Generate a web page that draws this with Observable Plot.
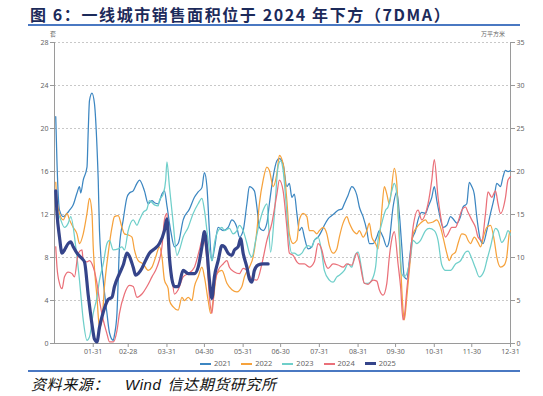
<!DOCTYPE html>
<html><head><meta charset="utf-8">
<script src="https://cdn.jsdelivr.net/npm/d3@7"></script>
<script src="https://cdn.jsdelivr.net/npm/@observablehq/plot@0.6"></script>
<style>
html,body{margin:0;padding:0;background:#fff;}
#wrap{position:relative;width:543px;height:396px;overflow:hidden;}
#title{position:absolute;left:30px;top:2px;font-family:"Noto Sans CJK SC","Noto Sans",sans-serif;font-weight:700;font-size:16px;color:#1c2a5a;white-space:nowrap;letter-spacing:1.6px;}
#tline{position:absolute;left:28px;top:24px;width:492px;height:2px;background:#4a78c2;}
#chart{position:absolute;left:0;top:27px;}
.unit{position:absolute;font-family:"Noto Sans CJK SC",sans-serif;font-size:6px;color:#666;white-space:nowrap;}
#legend{position:absolute;left:200px;top:358px;display:flex;gap:10px;font-family:"Noto Sans",sans-serif;font-size:7.5px;color:#666;align-items:center;}
#legend span.sw{display:inline-block;width:11px;height:2px;margin-right:3px;vertical-align:middle;}
#bline{position:absolute;left:28px;top:370px;width:492px;height:2px;background:#4a78c2;}
#caption{position:absolute;left:31px;top:373px;font-family:"Noto Sans CJK SC",sans-serif;font-style:italic;font-size:15px;color:#111;white-space:nowrap;letter-spacing:0.6px;}
#caption .w{font-family:"Liberation Sans",sans-serif;font-style:italic;margin:0 6px 0 16px;}
</style></head>
<body><div id="wrap">
<div id="title">图 6：一线城市销售面积位于 2024 年下方（7DMA）</div>
<div id="tline"></div>
<div class="unit" style="left:50px;top:29px;">套</div>
<div class="unit" style="left:481px;top:29px;">万平方米</div>
<div id="chart"></div>
<div id="legend"></div>
<div id="bline"></div>
<div id="caption">资料来源：<span class="w">Wind</span>信达期货研究所</div>
</div>
<script>
const xTickDays = [31,59,90,120,151,181,212,243,273,304,334,365];
const xTickLabels = ["01-31","02-28","03-31","04-30","05-31","06-30","07-31","08-31","09-30","10-31","11-30","12-31"];
const leftTicks = [0,4,8,12,16,20,24,28];
const rightTicks = [0,5,10,15,20,25,30,35];
const years = ["2021","2022","2023","2024","2025"];
const colors = ["#3c86c1","#f6a23c","#6fcfca","#ea7079","#35448a"];

const days2021 = [1,2,4,7,10,12,15,18,20,21,23,26,27,28,30,32,34,35,36,39,42,44,47,48,50,51,52,55,58,60,63,66,68,72,75,78,80,83,86,88,90,93,96,99,103,108,112,115,118,120,122,124,126,128,131,135,139,142,146,148,151,154,156,160,162,164,167,170,172,175,178,180,183,186,188,190,192,194,196,198,200,203,206,208,211,214,216,219,222,224,227,230,232,235,238,240,242,244,247,250,252,255,258,260,263,266,268,271,274,276,278,280,282,284,286,289,291,294,297,299,302,304,306,308,311,314,317,319,322,325,327,330,332,334,336,338,341,343,346,349,352,354,357,359,361,363,365];
const vals2021 = [21.1,16.8,12.4,11.8,12.1,12.4,12.9,14.0,14.6,14.0,15.2,16.4,19.8,22.6,23.3,22.3,18.3,15.2,10.5,5.9,2.8,1.0,0.3,0.8,2.8,5.9,9.0,11.5,13.6,14.0,14.2,14.9,15.2,14.2,13.0,13.3,13.1,13.0,13.9,14.2,12.8,10.5,9.0,9.3,11.5,12.5,13.6,14.1,14.5,15.9,14.6,10.5,7.7,8.8,10.8,10.5,10.8,11.5,10.8,9.9,10.5,13.0,14.6,14.2,12.7,10.8,10.5,11.2,13.0,15.5,17.0,17.2,16.7,14.6,14.9,13.6,13.9,12.1,10.5,10.8,9.9,8.8,9.0,9.6,9.9,10.5,11.0,11.6,11.9,12.1,12.4,12.5,13.0,13.8,14.6,14.4,13.8,12.7,11.8,10.5,9.3,9.3,9.9,10.5,9.9,9.0,9.6,12.7,14.1,12.1,9.0,6.2,6.0,7.7,9.6,10.5,11.5,12.2,12.1,12.7,13.6,14.6,13.3,12.1,10.8,11.0,11.8,11.6,11.2,11.8,12.7,13.0,15.0,14.6,13.9,11.8,9.6,9.3,10.5,12.1,13.6,14.9,14.6,15.5,16.1,16.0,16.1];

const days2022 = [1,2,4,7,10,12,15,18,20,23,26,28,30,31,34,36,38,40,43,46,48,51,54,56,59,62,64,67,71,75,78,81,84,86,88,91,92,95,99,102,104,107,110,112,115,118,120,123,125,127,130,134,138,142,146,150,152,156,159,162,164,167,170,172,175,178,180,183,186,188,191,194,196,199,202,204,207,210,212,215,218,220,223,226,228,231,234,236,239,242,244,247,250,252,254,257,259,262,264,266,268,272,274,275,277,279,280,282,285,287,290,293,297,299,303,306,309,311,314,316,318,321,323,326,329,331,333,336,339,341,344,346,349,352,354,357,360,362,364,365];
const vals2022 = [15.0,13.3,12.1,11.5,12.1,11.5,10.8,10.2,9.3,10.2,12.1,13.5,12.1,9.0,4.3,1.5,2.2,5.3,8.4,10.8,11.8,11.9,10.8,10.2,10.1,9.9,8.7,7.7,7.4,6.8,7.1,8.05,9.0,8.05,5.9,5.1,4.0,3.4,3.1,4.3,4.0,4.3,4.0,5.3,6.2,7.1,6.2,4.0,2.8,4.0,6.5,6.8,5.6,5.0,4.8,5.3,6.2,7.1,8.05,10.5,13.0,15.2,16.4,16.1,14.6,15.8,17.5,16.7,13.3,10.2,9.3,9.6,11.5,12.1,11.8,10.5,10.5,10.2,10.5,10.8,10.2,9.1,8.4,8.8,9.9,11.2,11.8,11.2,10.5,10.2,10.5,9.9,10.5,11.2,9.9,9.3,8.8,12.4,14.6,13.9,13.0,16.3,14.9,12.1,7.4,3.1,2.2,4.3,8.05,10.2,10.8,11.2,11.5,11.2,11.3,11.5,10.8,9.9,8.4,7.7,8.2,8.5,9.3,10.2,10.1,9.6,9.3,9.9,9.4,9.0,10.2,10.8,11.0,9.6,8.05,7.1,7.3,8.05,10.2,10.5];

const days2023 = [1,4,8,11,13,17,20,23,26,28,31,34,36,39,42,44,47,51,54,56,59,63,66,68,71,74,76,80,83,84,87,89,90,92,95,98,100,103,107,111,115,118,120,123,126,128,131,134,136,140,143,146,148,151,154,156,158,161,164,167,170,173,176,179,181,183,185,187,190,192,195,198,200,203,206,208,211,214,216,220,223,226,228,232,235,238,240,243,246,248,251,254,257,259,262,265,267,270,272,274,276,278,280,282,285,287,290,293,297,300,304,307,310,313,317,321,325,329,331,334,337,340,344,346,349,353,355,358,361,363,365];
const vals2023 = [12.5,11.8,10.8,11.2,11.8,9.0,5.9,2.2,0.3,0.6,2.8,4.3,5.9,7.4,9.3,9.6,8.7,8.8,9.0,8.7,10.5,11.5,11.0,11.5,12.2,12.5,13.3,12.9,12.8,13.3,13.9,15.2,16.9,14.6,11.2,8.2,8.7,9.9,10.8,12.1,13.0,13.5,12.4,9.6,7.7,9.3,10.5,10.8,10.5,10.7,10.2,10.5,11.0,10.5,9.3,8.4,8.05,9.6,11.2,12.4,13.0,8.5,12.0,16.5,17.0,16.1,13.6,10.5,8.4,8.4,8.2,8.4,8.8,9.1,9.0,9.6,9.9,8.4,6.8,5.9,5.7,6.2,6.35,6.8,7.4,7.1,8.05,8.5,6.8,5.6,5.6,5.9,7.1,9.6,11.2,12.4,12.7,14.2,14.9,13.9,10.2,6.5,6.2,6.5,8.05,9.6,9.3,9.6,10.5,10.7,10.5,9.6,7.3,6.8,6.8,7.4,7.7,8.5,8.6,7.9,7.0,6.2,6.8,7.7,9.0,10.7,10.5,9.4,9.9,10.5,10.1];

const days2024 = [1,2,4,6,8,11,14,16,19,22,23,26,28,31,34,36,39,42,44,47,50,52,56,60,63,66,70,74,78,82,86,88,90,91,94,96,99,103,107,112,116,119,122,124,126,128,131,135,138,140,144,148,151,154,158,162,166,170,174,178,180,183,186,188,191,194,196,200,204,208,211,214,216,219,223,227,231,234,238,242,244,248,251,255,258,260,263,266,268,271,272,275,277,279,280,282,285,287,291,294,297,299,302,304,307,310,313,315,318,321,323,326,329,331,334,337,339,342,345,347,350,353,355,357,361,363,365];
const vals2024 = [9.0,7.1,5.6,5.1,6.2,6.65,6.5,6.2,8.4,8.7,7.7,7.6,7.7,7.1,5.6,4.0,2.2,0.9,0.15,0.15,1.2,2.8,4.6,5.4,5.3,4.3,4.6,5.3,6.2,7.1,9.0,11.5,12.1,9.6,6.2,4.6,5.0,6.2,6.5,7.1,8.7,9.9,7.7,4.3,2.8,5.3,6.8,7.4,7.7,7.1,6.65,6.5,7.0,6.8,6.0,5.9,7.4,9.6,11.2,13.9,15.2,14.2,10.8,8.4,8.2,7.6,7.4,7.4,7.1,7.6,9.3,8.7,7.7,7.0,7.4,7.3,7.1,7.4,7.3,8.4,7.7,5.6,5.5,5.9,5.8,5.0,4.5,5.6,8.05,10.2,10.4,7.4,5.3,2.2,2.5,5.0,8.4,10.8,12.4,11.5,12.1,13.0,15.2,17.1,13.6,11.2,9.9,10.2,10.8,10.8,11.3,12.4,12.7,12.2,11.5,10.8,9.9,9.6,12.1,14.1,13.6,14.2,13.0,12.1,13.6,15.2,15.5];

const days2025 = [1,2,4,6,8,11,13,15,18,22,24,27,30,32,34,36,39,43,46,48,52,55,58,60,63,65,67,70,72,76,80,84,88,90,92,96,99,103,107,112,115,118,120,122,124,126,128,131,134,136,139,142,144,147,149,151,154,156,158,160,163,167,171];
const vals2025 = [14.2,12.1,9.9,8.4,8.7,9.3,9.45,9.0,8.4,7.9,7.6,4.5,1.8,0.4,0.15,1.5,2.9,4.1,4.3,5.3,6.5,7.3,8.4,8.1,7.1,6.35,6.5,7.0,7.5,8.4,8.8,9.3,10.5,11.6,8.0,5.3,5.3,6.8,6.5,6.5,7.1,9.0,10.4,8.7,5.9,4.2,6.2,7.7,9.1,9.0,8.4,8.2,8.7,9.0,9.75,8.4,7.1,6.0,5.7,6.8,7.3,7.4,7.4];

const allDays = [days2021,days2022,days2023,days2024,days2025];
const allVals = [vals2021,vals2022,vals2023,vals2024,vals2025];
const series = years.map((y,k)=>allDays[k].map((d,i)=>({d, v: allVals[k][i], year: y})));

const lineMarks = series.map((s,k)=>Plot.line(s,{x:"d",y:"v",stroke:colors[k],strokeWidth: k===4?3.2:1.25,curve:"monotone-x"}));

const chart = Plot.plot({
  width:543, height:330,
  marginTop:15, marginBottom:14, marginLeft:54, marginRight:33,
  x:{domain:[0,365], label:null},
  y:{domain:[0,28], label:null},
  style:{fontFamily:"Noto Sans, sans-serif", fontSize:"7px", color:"#666", background:"transparent"},
  marks:[
    Plot.gridY(leftTicks.filter(t=>t>0),{stroke:"#c8c8c8",strokeOpacity:1,strokeDasharray:"2,2"}),
    Plot.axisY(leftTicks,{anchor:"left",tickSize:4,tickPadding:2,stroke:"#999",label:null}),
    Plot.axisY(leftTicks,{anchor:"right",tickSize:4,tickPadding:2,stroke:"#999",label:null,tickFormat:d=>rightTicks[leftTicks.indexOf(d)]}),
    Plot.axisX(xTickDays,{tickSize:4,tickPadding:2,stroke:"#999",label:null,tickFormat:d=>xTickLabels[xTickDays.indexOf(d)]}),
    Plot.ruleX([0,365],{stroke:"#9a9a9a"}),
    Plot.ruleY([0],{stroke:"#9a9a9a"}),
    ...lineMarks
  ]
});
document.getElementById("chart").appendChild(chart);

const lg = document.getElementById("legend");
years.forEach((y,k)=>{
  const it = document.createElement("div");
  it.innerHTML = `<span class="sw" style="background:${colors[k]};height:${k===4?3:2}px"></span>${y}`;
  lg.appendChild(it);
});
</script>
</body></html>
